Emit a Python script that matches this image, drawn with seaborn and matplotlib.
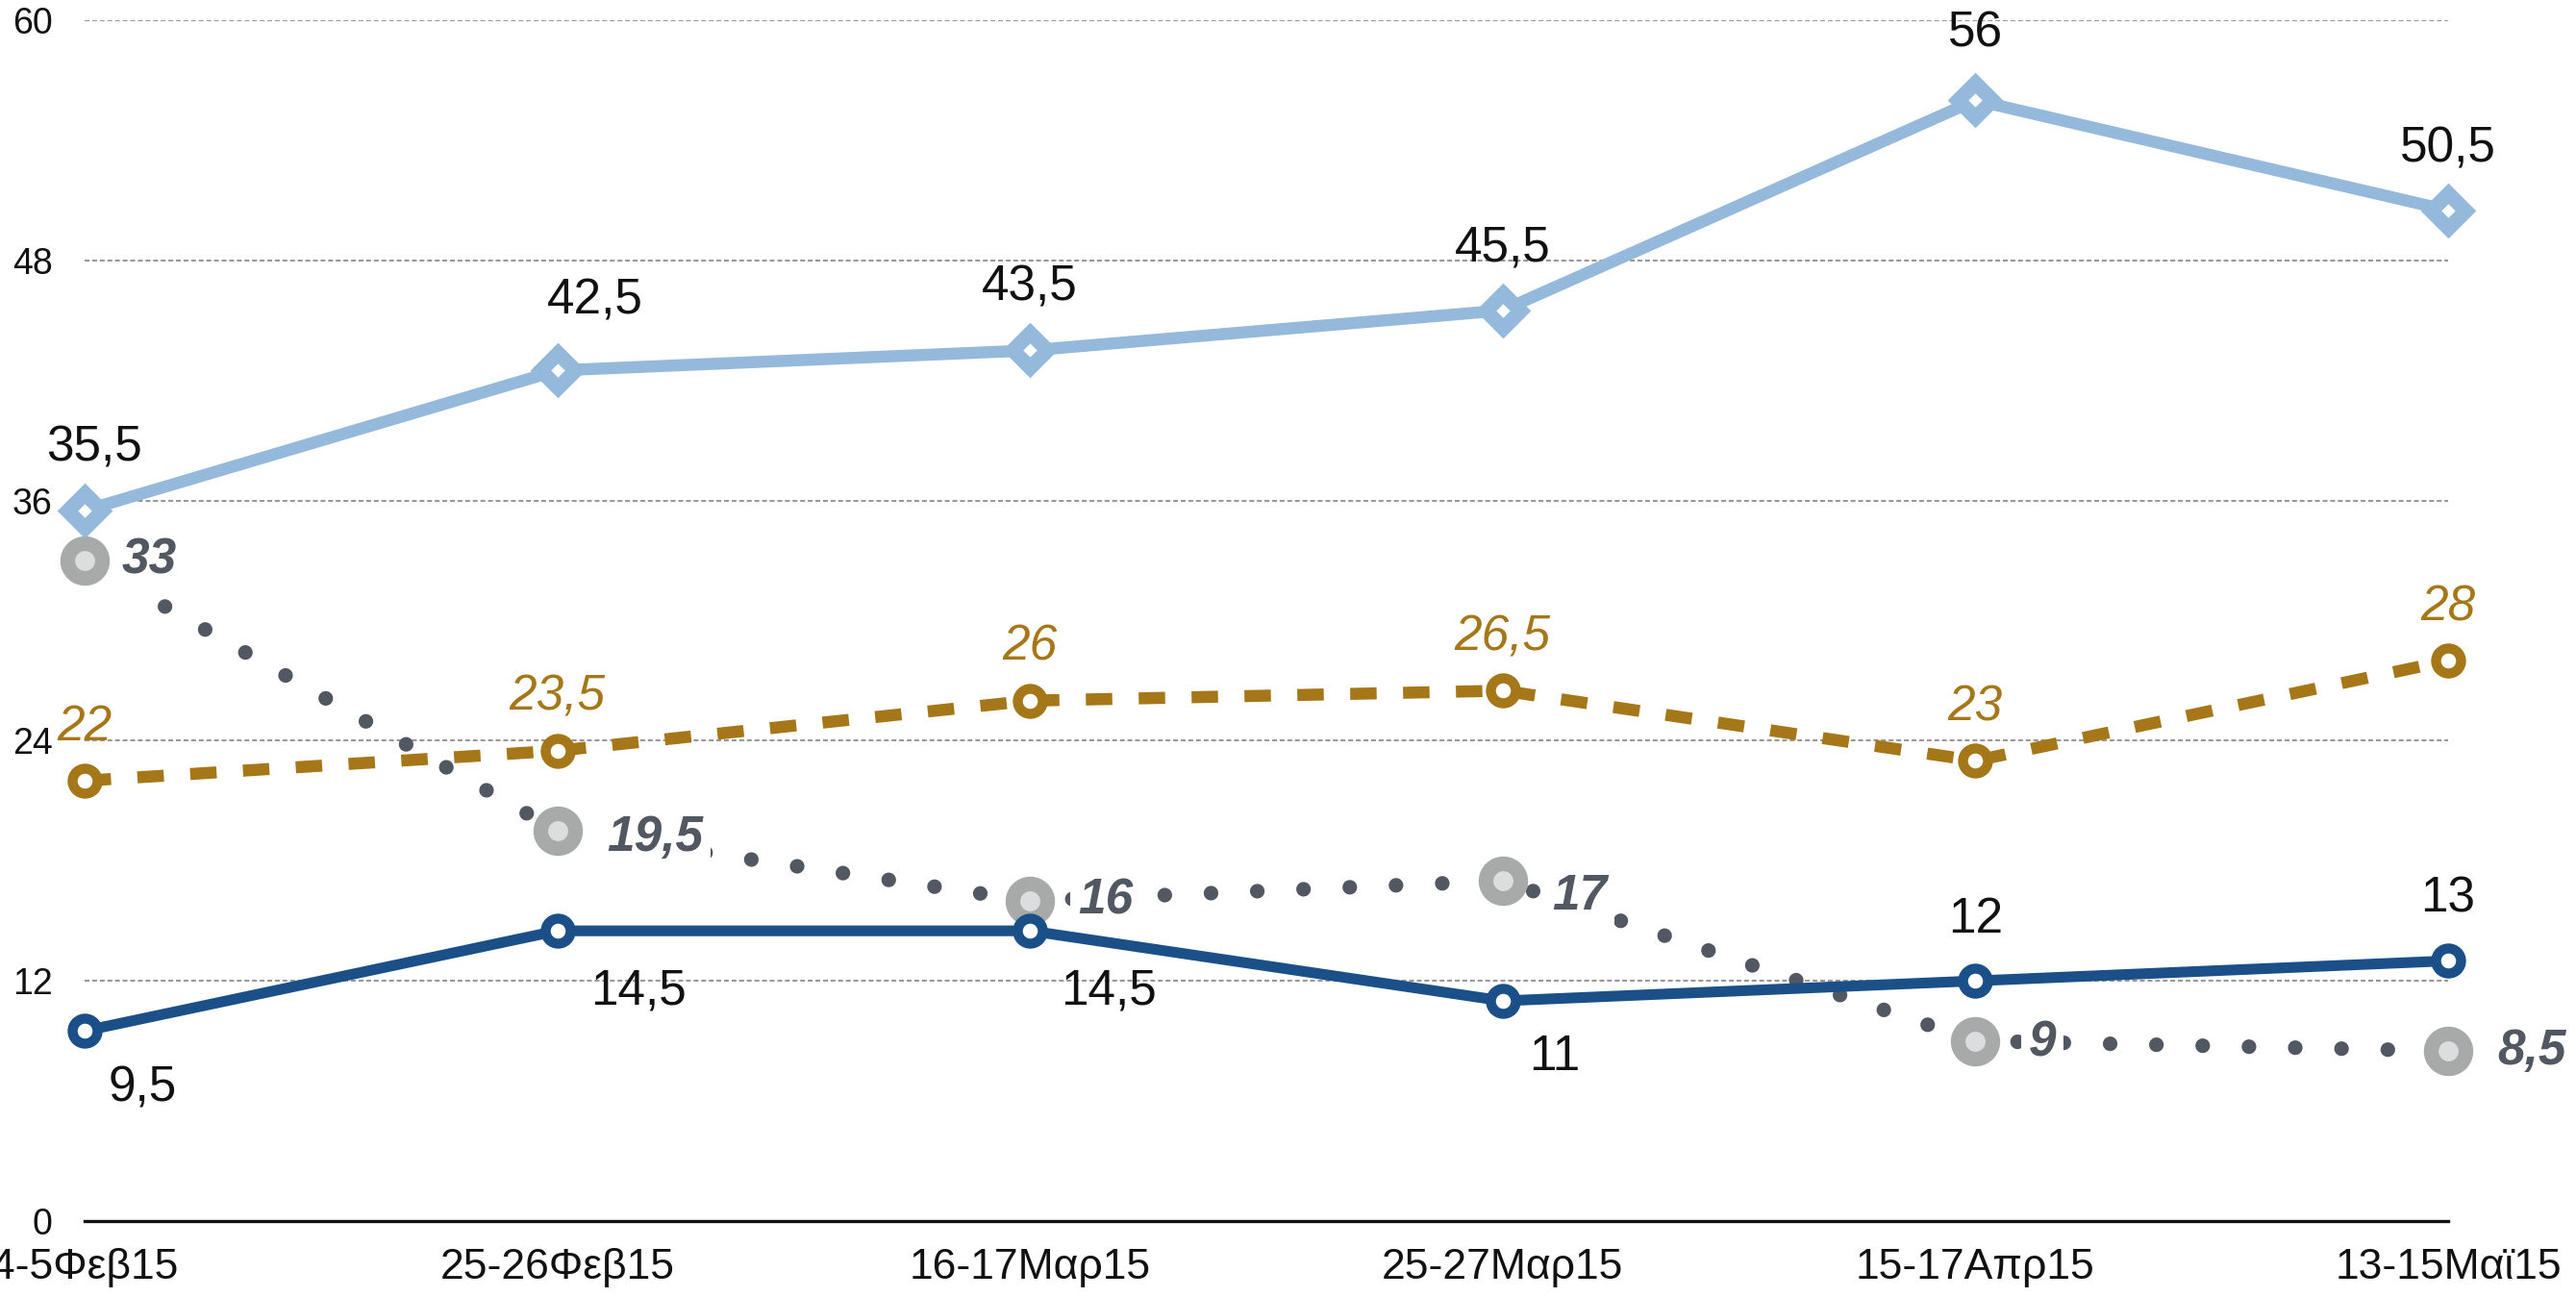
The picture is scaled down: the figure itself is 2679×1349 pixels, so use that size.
import numpy as np
import pandas as pd
import matplotlib
matplotlib.use("Agg")
import matplotlib.pyplot as plt
import seaborn as sns

# ---------------- data ----------------
periods = ["4-5Φεβ15", "25-26Φεβ15", "16-17Μαρ15", "25-27Μαρ15", "15-17Απρ15", "13-15Μαϊ15"]
series_light_blue = [35.5, 42.5, 43.5, 45.5, 56, 50.5]
series_gold = [22, 23.5, 26, 26.5, 23, 28]
series_dark_blue = [9.5, 14.5, 14.5, 11, 12, 13]
series_gray = [33, 19.5, 16, 17, 9, 8.5]
y_ticks = [0, 12, 24, 36, 48, 60]

x_pos = np.arange(len(periods))
df = pd.concat([
    pd.DataFrame({"x": x_pos, "value": series_light_blue, "series": "light_blue"}),
    pd.DataFrame({"x": x_pos, "value": series_gold, "series": "gold"}),
    pd.DataFrame({"x": x_pos, "value": series_dark_blue, "series": "dark_blue"}),
    pd.DataFrame({"x": x_pos, "value": series_gray, "series": "gray"}),
], ignore_index=True)

# ---------------- style ----------------
sns.set_style("white")
plt.rcParams["font.family"] = ["Liberation Sans", "DejaVu Sans"]

W, H = 2679, 1349
fig = plt.figure(figsize=(W / 100, H / 100), dpi=100)
ax = fig.add_axes([88 / W, 1 - 1270 / H, (2546 - 88) / W, (1270 - 21) / H])

C_LB = "#95B9DB"
C_GOLD = "#A57718"
C_DB = "#1A4F87"
C_GRAY = "#525861"
C_GRAY_EDGE = "#A7AAA9"
C_GRAY_FACE = "#DCDDDF"

styles = {
    "gray": dict(color=C_GRAY, lw=11, linestyle=(0, (0.001, 3.15)), dash_capstyle="round",
                 marker="o", markersize=26, markeredgewidth=11,
                 markeredgecolor=C_GRAY_EDGE, markerfacecolor=C_GRAY_FACE, zorder=2),
    "gold": dict(color=C_GOLD, lw=9, linestyle=(0, (2.2, 2.2)), dash_capstyle="butt",
                 marker="o", markersize=18.7, markeredgewidth=7.5,
                 markeredgecolor=C_GOLD, markerfacecolor="white", zorder=3),
    "light_blue": dict(color=C_LB, lw=9, linestyle="-",
                       marker="D", markersize=18, markeredgewidth=11,
                       markeredgecolor=C_LB, markerfacecolor="white", zorder=4),
    "dark_blue": dict(color=C_DB, lw=8, linestyle="-",
                      marker="o", markersize=18.7, markeredgewidth=7.5,
                      markeredgecolor=C_DB, markerfacecolor="white", zorder=5),
}

for name in ["gray", "gold", "light_blue", "dark_blue"]:
    sub = df[df["series"] == name]
    sns.lineplot(data=sub, x="x", y="value", ax=ax, legend=False,
                 clip_on=False, **styles[name])

ax.set_xlim(0, len(periods) - 1)
ax.set_ylim(0, 60)
ax.set_yticks(y_ticks)
ax.set_yticklabels([str(t) for t in y_ticks])
ax.set_xticks(x_pos)
ax.set_xticklabels(periods)
ax.set_xlabel("")
ax.set_ylabel("")
ax.tick_params(axis="y", length=0, pad=24, labelsize=27, labelcolor="#111111")
ax.tick_params(axis="x", length=0, pad=20, labelsize=32, labelcolor="#111111")

ax.grid(axis="y", color="#999999", lw=1.5, linestyle=(0, (2.4, 1.4)))
ax.grid(axis="x", visible=False)
ax.set_axisbelow(True)
for s in ["top", "right", "left"]:
    ax.spines[s].set_visible(False)
ax.spines["bottom"].set_color("#111111")
ax.spines["bottom"].set_linewidth(2.4)


def fmt(v):
    return f"{v:g}".replace(".", ",")


# ---------------- labels ----------------
lb_off = [(7, 47), (28, 52), (0, 47), (0, 47), (0, 50), (0, 46)]
for i, v in enumerate(series_light_blue):
    ax.annotate(fmt(v), (x_pos[i], v), xytext=lb_off[i], textcoords="offset points",
                ha="center", va="center", fontsize=37, color="#111111", zorder=10)

for i, v in enumerate(series_gold):
    ax.annotate(fmt(v), (x_pos[i], v), xytext=(0, 40), textcoords="offset points",
                ha="center", va="center", fontsize=37, color=C_GOLD, style="italic", zorder=10)

db_off = [(18, -43, "left"), (25, -45, "left"), (23, -45, "left"), (20, -42, "left"),
          (0, 46, "center"), (0, 46, "center")]
for i, v in enumerate(series_dark_blue):
    dx, dy, ha = db_off[i]
    ax.annotate(fmt(v), (x_pos[i], v), xytext=(dx, dy), textcoords="offset points",
                ha=ha, va="center", fontsize=37, color="#111111", zorder=10)

gray_off = [(28, 0), (37, -5), (36, 0), (37, -12), (40, -2), (37, 0)]
for i, v in enumerate(series_gray):
    ax.annotate(fmt(v), (x_pos[i], v), xytext=gray_off[i], textcoords="offset points",
                ha="left", va="center", fontsize=37, color=C_GRAY,
                style="italic", weight="bold", zorder=9,
                bbox=dict(boxstyle="square,pad=0.15", fc="white", ec="none"))

fig.savefig("out.png", dpi=100, facecolor="white")
